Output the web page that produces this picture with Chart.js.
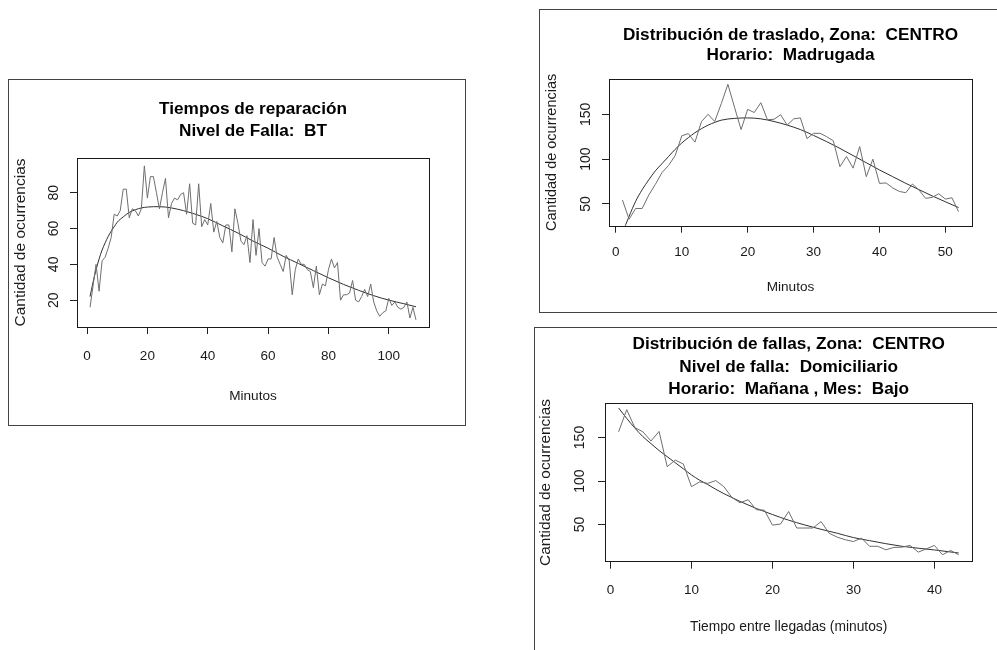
<!DOCTYPE html>
<html>
<head>
<meta charset="utf-8">
<script src="https://cdn.jsdelivr.net/npm/chart.js@4.4.1/dist/chart.umd.min.js"></script>
<style>
  html, body { margin: 0; padding: 0; background: #fff; overflow: hidden; }
  body { width: 997px; height: 650px; position: relative; }
  .panel { position: absolute; border: 1px solid #444; box-sizing: border-box; }
  .panel > div { position: absolute; left: 0; top: 0; }
</style>
</head>
<body>
<div class="panel" style="left:8px;top:79px;width:458px;height:347px;">
  <div style="width:456px;height:345px;"><canvas id="chartRep"></canvas></div>
</div>
<div class="panel" style="left:539px;top:9px;width:470px;height:304px;">
  <div style="width:457px;height:302px;"><canvas id="chartTras"></canvas></div>
</div>
<div class="panel" style="left:534px;top:327px;width:470px;height:330px;">
  <div style="width:462px;height:322px;"><canvas id="chartFall"></canvas></div>
</div>
<script>
// --- data ---

// tiempos de reparacion, minutes 1..109
const repObs = [16, 28, 40, 25, 42, 44, 49, 55, 68, 67, 70, 82, 82, 66, 71, 70, 67, 71, 95, 77,
  89, 89, 80, 71, 80, 88, 66, 74, 77, 76, 79, 80, 68, 85, 63, 62, 85, 61, 65, 62,
  74, 58, 64, 55, 52, 62, 62, 47, 71, 63, 53, 51, 56, 41, 65, 45, 60, 41, 39, 43,
  43, 55, 44, 40, 36, 45, 42, 23, 37, 43, 40, 40, 37, 36, 27, 39, 23, 29, 28, 37,
  43, 38, 41, 20, 23, 23, 24, 31, 20, 19, 22, 26, 22, 29, 19, 14, 11, 13, 14, 21,
  17, 19, 16, 15, 16, 19, 10, 16, 9];
const repFitX = [1, 2, 3, 4, 5, 6, 7, 8, 9, 10, 12, 14, 16, 18, 20, 22, 24, 26, 28, 30,
  32, 35, 38, 40, 45, 50, 55, 60, 65, 70, 75, 80, 85, 90, 95, 100, 105, 109];
const repFitY = [22, 30, 37, 43, 48, 52, 55.5, 58.5, 61, 63.5, 66.5, 69, 70.5, 71.5, 72, 72.2, 72.2, 72, 71.5, 70.8,
  70, 68.5, 66.8, 65.5, 61.5, 57.5, 53, 49, 44.5, 40.5, 36.5, 32.5, 28.8, 25.5, 22.5, 20, 18, 16.3];

// distribucion de traslado, minutes 1..52
const trasObs = [54.5, 33, 45, 45, 60, 72, 85, 93, 104, 126, 128.5, 119, 142, 150, 142, 162, 183.5, 158, 133, 155.5,
  152, 163, 144, 144.5, 149.5, 138, 145, 146, 123, 128.8, 128.8, 125, 120.5, 91.6, 103, 90, 114, 80.5, 100, 73,
  73.5, 68, 64, 62.6, 72.3, 65.6, 56.3, 57.4, 61.5, 55.5, 57, 41.5];
const trasFitX = [1, 2, 3, 4, 5, 6, 7, 8, 9, 10, 11, 12, 13, 14, 15, 16, 18, 20, 22, 24,
  26, 28, 30, 32, 34, 36, 38, 40, 42, 44, 46, 48, 50, 52];
const trasFitY = [18, 36, 53, 66, 77, 87, 95, 103, 111, 118, 124, 129.5, 134, 138, 141, 143.5, 145.5, 146, 145, 142,
  138, 133, 126.5, 119.5, 112, 104, 96, 88, 80.5, 73, 66, 59, 52.5, 46];

// distribucion de fallas, tiempo entre llegadas 1..43
const fallObs = [156.5, 182, 161.5, 156.5, 146, 157, 116.5, 124, 119.5, 93.5, 99, 97.3, 100.5, 93.5, 81, 75, 78.5, 67, 66.5, 49.3,
  50.6, 65, 46, 46, 46, 53.4, 40, 35.5, 32.5, 30.5, 34.4, 25, 25, 21, 23.7, 24, 26, 18.3, 22, 26,
  15.3, 20.2, 15.3];
const fallFitX = [1, 2, 3, 4, 5, 6, 7, 8, 9, 10, 11, 12, 13, 14, 15, 16, 17, 18, 19, 20,
  22, 24, 26, 28, 30, 32, 34, 36, 38, 40, 43];
const fallFitY = [184, 172, 161, 151, 143, 135, 128, 121, 114, 107, 101, 96, 90.5, 85.5, 81, 76.5, 72.5, 68.5, 65, 61.5,
  55, 49.5, 44.5, 40, 35, 31.5, 28, 25, 22.8, 20.8, 17.3];

const FONT = '"Liberation Sans", Arial, sans-serif';
Chart.defaults.font.family = FONT;
Chart.defaults.color = '#1a1a1a';

// R style: box around the plot, y tick labels turned 90 degrees
const rStyle = {
  id: 'rStyle',
  afterDraw(chart, args, opts) {
    const { ctx, chartArea: a } = chart;
    const y = chart.scales.y;
    ctx.save();
    ctx.strokeStyle = '#1a1a1a';
    ctx.lineWidth = 1;
    ctx.strokeRect(Math.round(a.left) + 0.5, Math.round(a.top) + 0.5,
      Math.round(a.right - a.left), Math.round(a.bottom - a.top));

    ctx.fillStyle = '#1a1a1a';
    ctx.font = '14px ' + FONT;
    ctx.textAlign = 'center';
    ctx.textBaseline = 'alphabetic';
    y.ticks.forEach((t) => {
      ctx.save();
      ctx.translate(a.left - opts.labelGap, y.getPixelForValue(t.value));
      ctx.rotate(-Math.PI / 2);
      ctx.fillText(String(t.value), 0, 0);
      ctx.restore();
    });
    ctx.restore();
  }
};

function toPoints(xs, ys) {
  return ys.map((v, i) => ({ x: xs[i], y: v }));
}

function makeChart(id, c) {
  const minutes = c.obs.map((v, i) => i + 1);
  return new Chart(document.getElementById(id), {
    type: 'line',
    data: {
      datasets: [
        { data: toPoints(minutes, c.obs), borderColor: '#6e6e6e', borderWidth: 1, pointRadius: 0, tension: 0 },
        { data: toPoints(c.fitX, c.fitY), borderColor: '#303030', borderWidth: 1, pointRadius: 0, cubicInterpolationMode: 'monotone' }
      ]
    },
    options: {
      responsive: true,
      maintainAspectRatio: false,
      animation: false,
      layout: { padding: { left: 0, top: 0, right: c.padRight, bottom: 0 } },
      plugins: {
        legend: { display: false },
        tooltip: { enabled: false },
        title: {
          display: true,
          text: c.title,
          fullSize: false,
          color: '#000',
          font: { size: 17.2, weight: 'bold', lineHeight: c.titleLine / 17.2 },
          padding: { top: c.titleTop, bottom: c.titleBottom }
        },
        rStyle: { labelGap: c.labelGap }
      },
      scales: {
        x: {
          type: 'linear',
          min: c.xMin, max: c.xMax,
          ticks: { stepSize: c.xStep, includeBounds: false, maxRotation: 0, autoSkip: false,
            padding: c.xTickPad, font: { size: 13.5, lineHeight: 1 } },
          grid: { drawOnChartArea: false, drawTicks: true, tickLength: 7, color: '#222', lineWidth: 1 },
          border: { display: false },
          title: { display: true, text: c.xTitle,
            font: { size: c.xTitleSize, lineHeight: 1 }, padding: { top: 0, bottom: c.xTitleBottom } },
          afterFit: (s) => { s.height = c.xHeight; }
        },
        y: {
          min: c.yMin, max: c.yMax,
          ticks: { stepSize: c.yStep, includeBounds: false, display: false },
          grid: { drawOnChartArea: false, drawTicks: true, tickLength: 7, color: '#222', lineWidth: 1 },
          border: { display: false },
          title: { display: true, text: 'Cantidad de ocurrencias',
            font: { size: c.yTitleSize, lineHeight: 1 }, padding: { top: c.yTitleTop, bottom: 0 } },
          afterFit: (s) => { s.width = c.yWidth; }
        }
      }
    },
    plugins: [rStyle]
  });
}

makeChart('chartRep', {
  obs: repObs, fitX: repFitX, fitY: repFitY,
  title: ['Tiempos de reparación', 'Nivel de Falla:  BT'],
  titleLine: 22, titleTop: 18.7, titleBottom: 15.3,
  padRight: 36, yWidth: 68, xHeight: 98,
  xMin: -3.32, xMax: 113.32, xStep: 20, xTickPad: 16,
  xTitle: 'Minutos', xTitleSize: 13.6, xTitleBottom: 21.5,
  yMin: 5, yMax: 99.4, yStep: 20, yTitleSize: 15.5, yTitleTop: 3.9,
  labelGap: 18.7
});

makeChart('chartTras', {
  obs: trasObs, fitX: trasFitX, fitY: trasFitY,
  title: ['Distribución de traslado, Zona:  CENTRO', 'Horario:  Madrugada'],
  titleLine: 20, titleTop: 15.7, titleBottom: 13.3,
  padRight: 25, yWidth: 69, xHeight: 86.3,
  xMin: -1.04, xMax: 54.04, xStep: 10, xTickPad: 12.8,
  xTitle: 'Minutos', xTitleSize: 13.6, xTitleBottom: 18,
  yMin: 25.8, yMax: 189.4, yStep: 50, yTitleSize: 14.5, yTitleTop: 4.25,
  labelGap: 19
});

makeChart('chartFall', {
  obs: fallObs, fitX: fallFitX, fitY: fallFitY,
  title: ['Distribución de fallas, Zona:  CENTRO', 'Nivel de falla:  Domiciliario', 'Horario:  Mañana , Mes:  Bajo'],
  titleLine: 22.15, titleTop: 5.6, titleBottom: 3.25,
  padRight: 24.7, yWidth: 70, xHeight: 88.3,
  xMin: -0.68, xMax: 44.68, xStep: 10, xTickPad: 14.8,
  xTitle: 'Tiempo entre llegadas (minutos)', xTitleSize: 13.8, xTitleBottom: 16.4,
  yMin: 7.3, yMax: 189.3, yStep: 50, yTitleSize: 15.4, yTitleTop: 3.5,
  labelGap: 20.7
});
</script>
</body>
</html>
